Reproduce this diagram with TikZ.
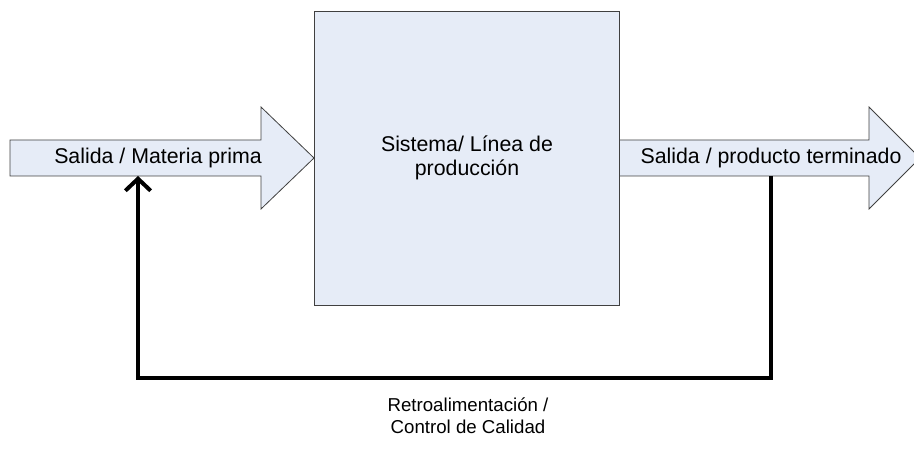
\documentclass[tikz,border=0pt]{standalone}
\usepackage{fontspec}
\setmainfont{Liberation Sans}
\usetikzlibrary{arrows.meta}
\definecolor{fillblue}{HTML}{E6ECF7}
\definecolor{edgegray}{HTML}{404040}
\tikzset{
  shapeedge/.style={draw=edgegray, fill=fillblue, line width=0.6pt, line join=miter},
  lbl/.style={font=\fontsize{16pt}{18pt}\selectfont, text=black, align=center, inner sep=0pt},
  feedback/.style={line width=3pt, line join=miter, -{Straight Barb[length=9pt,width=19pt]}}
}
\begin{document}
\begin{tikzpicture}[x=0.75pt,y=-0.75pt]
\useasboundingbox (0,0) rectangle (914,459);
% left arrow
\path[shapeedge] (10,140) -- (261,140) -- (261,107) -- (314,158) -- (261,209) -- (261,176) -- (10,176) -- cycle;
% right arrow
\path[shapeedge] (619,140) -- (869,140) -- (869,107) -- (920,158) -- (869,209) -- (869,176) -- (619,176) -- cycle;
% system box
\node[shapeedge, minimum width=305*0.75pt, minimum height=294*0.75pt, anchor=north west, inner sep=0pt] (sys) at (314,11) {};
\node[lbl] (systxt) at (467,158) {Sistema/ Línea de\\producción};
\node[lbl] (intxt) at (158,158) {Salida / Materia prima};
\node[lbl] (outtxt) at (771,158) {Salida / producto terminado};
\coordinate (outbot) at (771,176);
\coordinate (inbot) at (138,176);
\coordinate (br) at (771,378);
\coordinate (bl) at (138,378);
\draw[feedback] (outbot) -- (br) -- (bl) -- (inbot);
\node[lbl, font=\fontsize{14pt}{16.5pt}\selectfont] (fbtxt) at (468,416) {Retroalimentación /\\Control de Calidad};
\end{tikzpicture}
\end{document}
